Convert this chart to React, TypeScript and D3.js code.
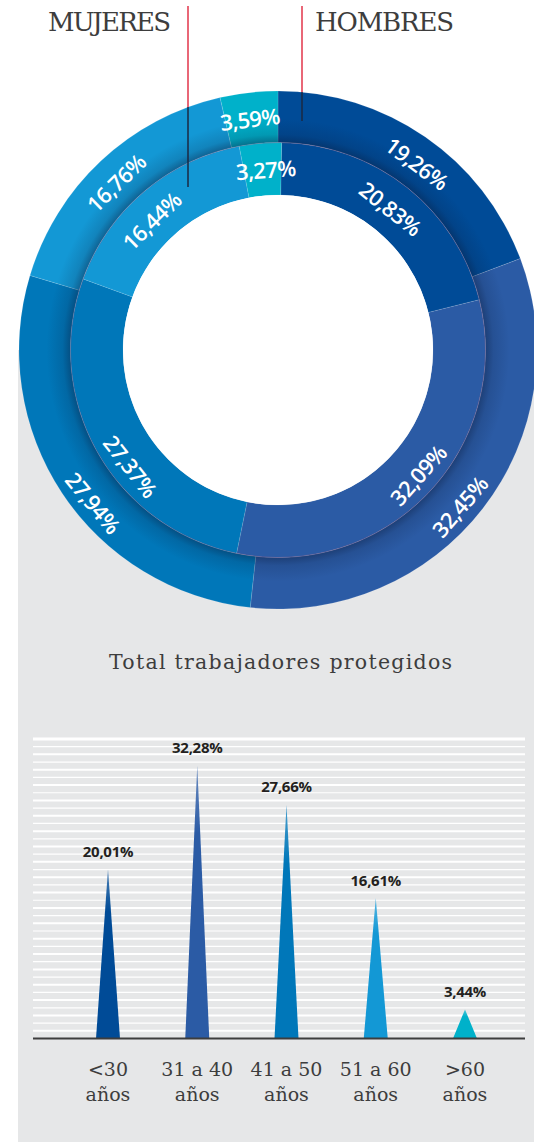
import React from "react";
import * as d3 from "d3";

// ---------- data ----------
const segmentNames = ["<30", "31 a 40", "41 a 50", "51 a 60", ">60"];
const hombres = [19.26, 32.45, 27.94, 16.76, 3.59];
const mujeres = [20.83, 32.09, 27.37, 16.44, 3.27];
const segmentColors = ["#004b97", "#2b5ba5", "#0077b9", "#1398d5", "#00b1ca"];

const ageLine1 = ["<30", "31 a 40", "41 a 50", "51 a 60", ">60"];
const ageLine2 = ["años", "años", "años", "años", "años"];
const ageValues = [20.01, 32.28, 27.66, 16.61, 3.44];

const genderLabels = ["MUJERES", "HOMBRES"];
const chartTitle = "Total trabajadores protegidos";

// small angular nudges (degrees) for donut labels
const outerLabelShift = [2, 3, -6, -1, -0.5];
const innerLabelShift = [0, -2, -9, -4, 1];

const fmt = (v: number) => v.toFixed(2).replace(".", ",") + "%";

export default function App() {
  const W = 534;
  const H = 1142;
  const cx = 278;
  const cy = 350;
  const rHole = 155;
  const rMid = 207.5;
  const rOut = 259;

  const outerPie = d3.pie<number>().sort(null).value((d) => d)(hombres);
  const innerOffset = (1 * Math.PI) / 180;
  const innerPie = d3
    .pie<number>()
    .sort(null)
    .value((d) => d)
    .startAngle(innerOffset)
    .endAngle(innerOffset + 2 * Math.PI)(mujeres);

  const outerArc = d3.arc<any>().innerRadius(rMid).outerRadius(rOut);
  const innerArc = d3.arc<any>().innerRadius(rHole).outerRadius(rMid);
  const ringArc = d3
    .arc<any>()
    .innerRadius(rMid)
    .outerRadius(rOut)
    .startAngle(0)
    .endAngle(2 * Math.PI);

  const labelFor = (a: number, r: number, shiftDeg: number) => {
    const ang = a + (shiftDeg * Math.PI) / 180;
    const deg = (ang * 180) / Math.PI;
    const flipped = deg > 90 && deg < 270;
    const rr = flipped ? r + 6 : r;
    const x = cx + rr * Math.sin(ang);
    const y = cy - rr * Math.cos(ang);
    const rot = flipped ? deg - 180 : deg;
    return { x, y, rot };
  };

  // ---------- bar chart ----------
  const plotLeft = 33;
  const plotRight = 525;
  const baseY = 1038.5;
  const topY = 739;
  const y = d3.scaleLinear().domain([0, 35.4]).range([baseY, topY]);
  const x = d3.scalePoint<string>().domain(segmentNames).range([108, 465]);
  const halfBase = 12;
  const gridCount = 39;
  const gridStep = (baseY - topY) / gridCount;
  const gridLines = d3.range(gridCount).map((i) => topY + i * gridStep);

  return (
    <svg
      width={W}
      height={H}
      viewBox={`0 0 ${W} ${H}`}
      style={{ position: "absolute", left: 0, top: 0, display: "block", background: "#fff" }}
    >
      <defs>
        <radialGradient id="ringShade" gradientUnits="userSpaceOnUse" cx={0} cy={0} r={rOut}>
          <stop offset={0} stopColor="#0a1a3a" stopOpacity={0} />
          <stop offset={rMid / rOut} stopColor="#0a1a3a" stopOpacity={0.42} />
          <stop offset={(rMid + 8) / rOut} stopColor="#0a1a3a" stopOpacity={0.16} />
          <stop offset={(rMid + 24) / rOut} stopColor="#0a1a3a" stopOpacity={0} />
          <stop offset={1} stopColor="#0a1a3a" stopOpacity={0} />
        </radialGradient>
        {segmentColors.map((c, i) => (
          <linearGradient key={i} id={`bar${i}`} x1="0" y1="0" x2="0" y2="1">
            <stop offset="0" stopColor={d3.interpolateRgb(c, "#ffffff")(0.3)} />
            <stop offset="0.25" stopColor={c} />
            <stop offset="1" stopColor={c} />
          </linearGradient>
        ))}
      </defs>

      {/* gray panel */}
      <rect x={18} y={350} width={W - 18} height={H - 350} fill="#e6e7e8" />

      {/* header labels */}
      <text x={48} y={30.5} fontFamily="DejaVu Serif" fontSize={26} fill="#3d3d3d" textLength={123} lengthAdjust="spacing">
        {genderLabels[0]}
      </text>
      <text x={315} y={30.5} fontFamily="DejaVu Serif" fontSize={26} fill="#3d3d3d" textLength={139} lengthAdjust="spacing">
        {genderLabels[1]}
      </text>

      {/* donut: outer = hombres, inner = mujeres */}
      <g transform={`translate(${cx},${cy})`}>
        {outerPie.map((d, i) => (
          <path key={"o" + i} d={outerArc(d) as string} fill={segmentColors[i]} stroke="rgba(255,255,255,0.22)" strokeWidth={0.6} />
        ))}
        <path d={ringArc({}) as string} fill="url(#ringShade)" />
        {innerPie.map((d, i) => (
          <path key={"i" + i} d={innerArc(d) as string} fill={segmentColors[i]} stroke="rgba(255,255,255,0.18)" strokeWidth={0.6} />
        ))}
        <circle r={rMid} fill="none" stroke="#7a3f72" strokeOpacity={0.45} strokeWidth={0.7} />
        <circle r={rHole} fill="#fff" />
      </g>

      {/* donut labels */}
      {outerPie.map((d, i) => {
        const p = labelFor((d.startAngle + d.endAngle) / 2, (rMid + rOut) / 2, outerLabelShift[i]);
        return (
          <text
            key={"ol" + i}
            transform={`translate(${p.x},${p.y}) rotate(${p.rot})`}
            textAnchor="middle"
            dominantBaseline="central"
            fontFamily="'Open Sans', sans-serif"
            fontWeight={600}
            fontSize={22}
            letterSpacing={-0.6}
            fill="#fff"
          >
            {fmt(hombres[i])}
          </text>
        );
      })}
      {innerPie.map((d, i) => {
        const p = labelFor((d.startAngle + d.endAngle) / 2, (rHole + rMid) / 2, innerLabelShift[i]);
        return (
          <text
            key={"il" + i}
            transform={`translate(${p.x},${p.y}) rotate(${p.rot})`}
            textAnchor="middle"
            dominantBaseline="central"
            fontFamily="'Open Sans', sans-serif"
            fontWeight={600}
            fontSize={22}
            letterSpacing={-0.6}
            fill="#fff"
          >
            {fmt(mujeres[i])}
          </text>
        );
      })}

      {/* pointer lines */}
      <line x1={188} y1={6} x2={188} y2={107} stroke="#e2344a" strokeWidth={1.5} />
      <line x1={188} y1={107} x2={188} y2={187} stroke="#1b2842" strokeWidth={1.5} />
      <line x1={302} y1={6} x2={302} y2={92} stroke="#e2344a" strokeWidth={1.5} />
      <line x1={302} y1={92} x2={302} y2={121} stroke="#1b2842" strokeWidth={1.5} />

      {/* title */}
      <text x={109} y={669} fontFamily="DejaVu Serif" fontSize={20.5} fill="#3d3d3d" textLength={343} lengthAdjust="spacing">
        {chartTitle}
      </text>

      {/* grid lines */}
      {gridLines.map((gy, i) => (
        <line
          key={"g" + i}
          x1={plotLeft}
          x2={plotRight}
          y1={gy}
          y2={gy}
          stroke="#fff"
          strokeWidth={i === 0 ? 3 : i % 2 === 0 ? 2 : 1.2}
        />
      ))}

      {/* bars */}
      {ageValues.map((v, i) => {
        const bx = x(segmentNames[i]) as number;
        const path = d3.path();
        path.moveTo(bx - halfBase, baseY);
        path.lineTo(bx, y(v));
        path.lineTo(bx + halfBase, baseY);
        path.closePath();
        return <path key={"b" + i} d={path.toString()} fill={`url(#bar${i})`} />;
      })}
      {ageValues.map((v, i) => (
        <text
          key={"bl" + i}
          x={x(segmentNames[i]) as number}
          y={y(v) - 12}
          textAnchor="middle"
          fontFamily="'Open Sans', sans-serif"
          fontWeight={700}
          fontSize={15}
          letterSpacing={-0.3}
          fill="#231f20"
        >
          {fmt(v)}
        </text>
      ))}

      {/* baseline */}
      <line x1={plotLeft} x2={plotRight} y1={baseY} y2={baseY} stroke="#3d3d3d" strokeWidth={2} />

      {/* category labels */}
      {ageLine1.map((t, i) => (
        <text
          key={"c" + i}
          x={x(segmentNames[i]) as number}
          textAnchor="middle"
          fontFamily="DejaVu Serif"
          fontSize={19}
          fill="#3d3d3d"
        >
          <tspan x={x(segmentNames[i]) as number} y={1076}>
            {t}
          </tspan>
          <tspan x={x(segmentNames[i]) as number} y={1101}>
            {ageLine2[i]}
          </tspan>
        </text>
      ))}
    </svg>
  );
}
